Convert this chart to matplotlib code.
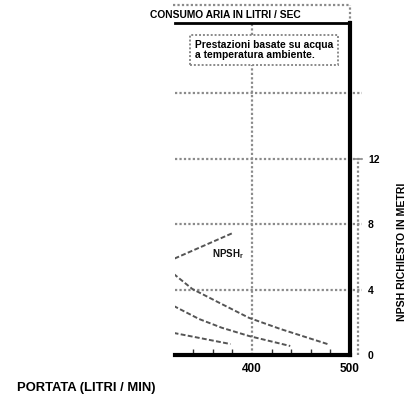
import matplotlib
matplotlib.use("Agg")
import matplotlib.pyplot as plt
from matplotlib.ticker import MultipleLocator

plt.rcParams['font.family'] = ['Liberation Sans', 'DejaVu Sans']

# Flow axis (litres / min) and NPSH axis (metres)
x_ticks = [400, 500]
x_tick_labels = ["400", "500"]
npsh_ticks = [0, 4, 8, 12]
npsh_tick_labels = ["0", "4", "8", "12"]
grid_levels = [4, 8, 12, 16]

# Required NPSH curve
npsh_x = [321, 380]
npsh_y = [5.9, 7.45]

# Air consumption curves (descending)
curve_a_x = [320, 339, 367, 397, 429, 477]
curve_a_y = [4.96, 4.04, 3.18, 2.27, 1.59, 0.67]
curve_b_x = [320, 346, 369, 397, 439]
curve_b_y = [3.0, 2.2, 1.67, 1.16, 0.55]
curve_c_x = [320, 350, 378]
curve_c_y = [1.35, 1.0, 0.67]

W, H = 408, 401
fig = plt.figure(figsize=(W / 100, H / 100), dpi=100)
L, R, T, B = 175, 350, 23, 355
ax = fig.add_axes([L / W, 1 - B / H, (R - L) / W, (B - T) / H])

XMIN, XMAX = 321.4, 500
YMIN, YMAX = 0, 20.3
ax.set_xlim(XMIN, XMAX)
ax.set_ylim(YMIN, YMAX)

px_x = (XMAX - XMIN) / (R - L)      # data units per pixel, x
px_y = (YMAX - YMIN) / (B - T)      # data units per pixel, y

grid_kw = dict(color="#8a8a8a", lw=1.6, ls=(0, (1, 1)), clip_on=False, zorder=1)
for g in grid_levels:
    ax.plot([XMIN, XMAX + 12 * px_x], [g, g], **grid_kw)
ax.plot([400, 400], [YMIN, YMAX], **grid_kw)

# header strip above the plot
y_top = YMAX + 18 * px_y
ax.plot([XMIN - 2 * px_x, XMAX], [y_top, y_top], **grid_kw)
ax.plot([XMAX, XMAX], [YMAX, y_top], **grid_kw)

# secondary NPSH scale line
x_sec = XMAX + 8 * px_x
ax.plot([x_sec, x_sec], [0, 12], **grid_kw)
ax.plot([x_sec - 4 * px_x, x_sec + 4 * px_x], [12, 12], color="#8a8a8a", lw=1.2,
        clip_on=False)

curve_kw = dict(color="#555555", lw=1.4, ls=(0, (2.5, 1.2)), zorder=3)
ax.plot(npsh_x, npsh_y, **curve_kw)
ax.plot(curve_a_x, curve_a_y, **curve_kw)
ax.plot(curve_b_x, curve_b_y, **curve_kw)
ax.plot(curve_c_x, curve_c_y, **curve_kw)

ax.text(359, 6.2, r"NPSH$_\mathregular{r}$", fontsize=7, fontweight="bold",
        ha="left", va="center", color="#111111")

ax.spines["left"].set_visible(False)
ax.spines["right"].set_linewidth(3)
ax.spines["top"].set_linewidth(2)
ax.spines["bottom"].set_linewidth(3)

ax.set_xticks(x_ticks)
ax.set_xticklabels(x_tick_labels, fontsize=8.5, fontweight="bold")
ax.xaxis.set_minor_locator(MultipleLocator(20))
ax.tick_params(axis="x", which="major", length=0, pad=5.5)
ax.tick_params(axis="x", which="minor", direction="in", length=4, width=1,
               color="#333333")
ax.set_yticks([])

ax2 = ax.twinx()
ax2.set_ylim(YMIN, YMAX)
for s in ("left", "top", "bottom", "right"):
    ax2.spines[s].set_visible(False)
ax2.set_yticks(npsh_ticks)
ax2.set_yticklabels(npsh_tick_labels, fontsize=7.5, fontweight="bold")
ax2.tick_params(axis="y", length=0, pad=13)
ax2.set_ylabel("NPSH RICHIESTO IN METRI", fontsize=7.6, fontweight="bold")
ax2.yaxis.set_label_coords((397 - L) / (R - L), (B - 252) / (B - T))

fig.text(150 / W, 1 - 15 / H, "CONSUMO ARIA IN LITRI / SEC", fontsize=7.4,
         fontweight="bold", ha="left", va="center")
fig.text(17 / W, 1 - 388 / H, "PORTATA (LITRI / MIN)", fontsize=9.4,
         fontweight="bold", ha="left", va="center")

# note box
ax.text(195 / W, 1 - 50 / H, "Prestazioni basate su acqua\na temperatura ambiente.",
        transform=fig.transFigure, fontsize=7.4, fontweight="bold", ha="left",
        va="center", linespacing=1.1,
        bbox=dict(boxstyle="square,pad=0.45", fc="white", ec="#8a8a8a", lw=1.4,
                  ls=(0, (1, 1))))

fig.savefig("out.png", dpi=100)
